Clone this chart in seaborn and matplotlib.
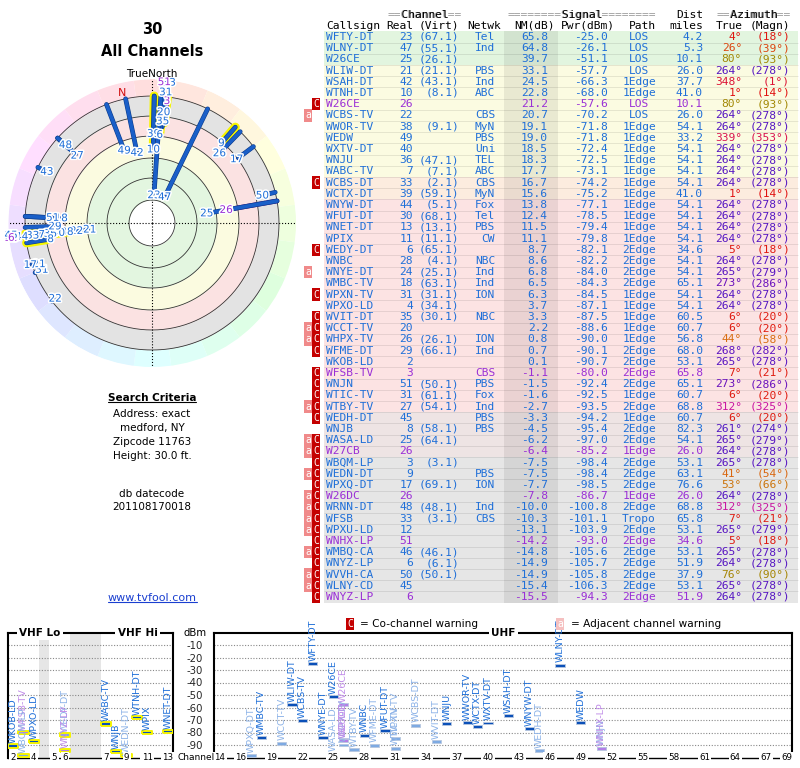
import colorsys
import numpy as np
import pandas as pd
import matplotlib
matplotlib.use("Agg")
import matplotlib.pyplot as plt
import matplotlib.patheffects as pe
from matplotlib.colors import LinearSegmentedColormap
from matplotlib.lines import Line2D
import seaborn as sns

sns.set_theme(style="white")
plt.rcParams['font.family'] = ['DejaVu Sans']
plt.rcParams['text.color'] = 'black'

# station list (tvfool signal analysis, sorted by NM)
CALLSIGN = ['WFTY-DT', 'WLNY-DT', 'W26CE', 'WLIW-DT', 'WSAH-DT', 'WTNH-DT', 'W26CE', 'WCBS-TV', 'WWOR-TV', 'WEDW',
            'WXTV-DT', 'WNJU', 'WABC-TV', 'WCBS-DT', 'WCTX-DT', 'WNYW-DT', 'WFUT-DT', 'WNET-DT', 'WPIX', 'WEDY-DT',
            'WNBC', 'WNYE-DT', 'WMBC-TV', 'WPXN-TV', 'WPXO-LD', 'WVIT-DT', 'WCCT-TV', 'WHPX-TV', 'WFME-DT', 'WKOB-LD',
            'WFSB-TV', 'WNJN', 'WTIC-TV', 'WTBY-TV', 'WEDH-DT', 'WNJB', 'WASA-LD', 'W27CB', 'WBQM-LP', 'WEDN-DT',
            'WPXQ-DT', 'W26DC', 'WRNN-DT', 'WFSB', 'WPXU-LD', 'WNHX-LP', 'WMBQ-CA', 'WNYZ-LP', 'WVVH-CA', 'WLNY-CD',
            'WNYZ-LP']
REAL = [23, 47, 25, 21, 42, 10, 26, 22, 38, 49,
        40, 36, 7, 33, 39, 44, 30, 13, 11, 6,
        28, 24, 18, 31, 4, 35, 20, 26, 29, 2,
        3, 51, 31, 27, 45, 8, 25, 26, 3, 9,
        17, 26, 48, 33, 12, 51, 46, 6, 50, 45,
        6]
VIRT = ['(67.1)', '(55.1)', '(26.1)', '(21.1)', '(43.1)', '(8.1)', '', '', '(9.1)', '',
        '', '(47.1)', '(7.1)', '(2.1)', '(59.1)', '(5.1)', '(68.1)', '(13.1)', '(11.1)', '(65.1)',
        '(4.1)', '(25.1)', '(63.1)', '(31.1)', '(34.1)', '(30.1)', '', '(26.1)', '(66.1)', '',
        '', '(50.1)', '(61.1)', '(54.1)', '', '(58.1)', '(64.1)', '', '(3.1)', '',
        '(69.1)', '', '(48.1)', '(3.1)', '', '', '(46.1)', '(6.1)', '(50.1)', '',
        '']
NETWK = ['Tel', 'Ind', '', 'PBS', 'Ind', 'ABC', '', 'CBS', 'MyN', 'PBS',
         'Uni', 'TEL', 'ABC', 'CBS', 'MyN', 'Fox', 'Tel', 'PBS', 'CW', '',
         'NBC', 'Ind', 'Ind', 'ION', '', 'NBC', '', 'ION', 'Ind', '',
         'CBS', 'PBS', 'Fox', 'Ind', 'PBS', 'PBS', '', '', '', 'PBS',
         'ION', '', 'Ind', 'CBS', '', '', '', '', '', '',
         '']
NM = [65.8, 64.8, 39.7, 33.1, 24.5, 22.8, 21.2, 20.7, 19.1, 19.0,
      18.5, 18.3, 17.7, 16.7, 15.6, 13.8, 12.4, 11.5, 11.1, 8.7,
      8.6, 6.8, 6.5, 6.3, 3.7, 3.3, 2.2, 0.8, 0.7, 0.1,
      -1.1, -1.5, -1.6, -2.7, -3.3, -4.5, -6.2, -6.4, -7.5, -7.5,
      -7.7, -7.8, -10.0, -10.3, -13.1, -14.2, -14.8, -14.9, -14.9, -15.4,
      -15.5]
PWR = [-25.0, -26.1, -51.1, -57.7, -66.3, -68.0, -57.6, -70.2, -71.8, -71.8,
       -72.4, -72.5, -73.1, -74.2, -75.2, -77.1, -78.5, -79.4, -79.8, -82.1,
       -82.2, -84.0, -84.3, -84.5, -87.1, -87.5, -88.6, -90.0, -90.1, -90.7,
       -80.0, -92.4, -92.5, -93.5, -94.2, -95.4, -97.0, -85.2, -98.4, -98.4,
       -98.5, -86.7, -100.8, -101.1, -103.9, -93.0, -105.6, -105.7, -105.8, -106.3,
       -94.3]
PATH = ['LOS', 'LOS', 'LOS', 'LOS', '1Edge', '1Edge', 'LOS', 'LOS', '1Edge', '1Edge',
        '1Edge', '1Edge', '1Edge', '1Edge', '1Edge', '1Edge', '1Edge', '1Edge', '1Edge', '2Edge',
        '2Edge', '2Edge', '2Edge', '1Edge', '1Edge', '1Edge', '1Edge', '1Edge', '2Edge', '2Edge',
        '2Edge', '2Edge', '1Edge', '2Edge', '1Edge', '2Edge', '2Edge', '1Edge', '2Edge', '2Edge',
        '2Edge', '1Edge', '2Edge', 'Tropo', '2Edge', '2Edge', '2Edge', '2Edge', '2Edge', '2Edge',
        '2Edge']
DIST = [4.2, 5.3, 10.1, 26.0, 37.7, 41.0, 10.1, 26.0, 54.1, 33.2,
        54.1, 54.1, 54.1, 54.1, 41.0, 54.1, 54.1, 54.1, 54.1, 34.6,
        54.1, 54.1, 65.1, 54.1, 54.1, 60.5, 60.7, 56.8, 68.0, 53.1,
        65.8, 65.1, 60.7, 68.8, 60.7, 82.3, 54.1, 26.0, 53.1, 63.1,
        76.6, 26.0, 68.8, 65.8, 53.1, 34.6, 53.1, 51.9, 37.9, 53.1,
        51.9]
AZ_TRUE = [4, 26, 80, 264, 348, 1, 80, 264, 264, 339,
           264, 264, 264, 264, 1, 264, 264, 264, 264, 5,
           264, 265, 273, 264, 264, 6, 6, 44, 268, 265,
           7, 273, 6, 312, 6, 261, 265, 264, 265, 41,
           53, 264, 312, 7, 265, 5, 265, 264, 76, 265,
           264]
AZ_MAGN = [18, 39, 93, 278, 1, 14, 93, 278, 278, 353,
           278, 278, 278, 278, 14, 278, 278, 278, 278, 18,
           278, 279, 286, 278, 278, 20, 20, 58, 282, 278,
           21, 286, 20, 325, 20, 274, 279, 278, 278, 54,
           66, 278, 325, 21, 279, 18, 278, 278, 90, 278,
           278]
WARN = ['', '', '', '', '', '', 'C', 'a', '', '',
        '', '', '', 'C', '', '', '', '', '', 'C',
        '', 'a', '', 'C', '', 'C', 'aC', 'aC', 'C', '',
        'C', 'C', 'C', 'aC', 'C', '', 'aC', 'aC', 'C', 'aC',
        'C', 'aC', 'aC', 'aC', 'aC', 'C', 'aC', 'C', 'aC', 'aC',
        'C']
PURPLE = [0, 0, 0, 0, 0, 0, 1, 0, 0, 0,
          0, 0, 0, 0, 0, 0, 0, 0, 0, 0,
          0, 0, 0, 0, 0, 0, 0, 0, 0, 0,
          1, 0, 0, 0, 0, 0, 0, 1, 0, 0,
          0, 1, 0, 0, 0, 1, 0, 0, 0, 0,
          1]

# weak stations only visible on the compass plot
EXTRA_CH = [43, 22, 21, 17, 31]
EXTRA_AZ = [296, 232, 250, 251, 247]
EXTRA_NM = [-18.0, -23.5, -21.0, -21.5, -20.5]

SEARCH_LINES = ['Address: exact', 'medford, NY', 'Zipcode 11763', 'Height: 30.0 ft.']
DATECODE = '201108170018'

UHF_TICKS = [14, 16, 19, 22, 25, 28, 31, 34, 37, 40, 43, 46, 49, 52, 55, 58, 61, 64, 67, 69]
VHF_TICKS = [2, 4, 5, 6, 7, 9, 11, 13]
DBM_TICKS = [-10, -20, -30, -40, -50, -60, -70, -80, -90]

BLUE = '#1f6fd8'
VIOLET = '#9a2fd6'
BAND_EDGES = [72.4, 32.9, 12.2, -6.6, -25.4]
BAND_COLORS = ['#e3f6e0', '#fbfbe0', '#fbe2e2', '#e3e3e3']
RING_LEVELS = [72.4, 51.7, 32.9, 12.2, -6.6, -25.4]
NM_CENTER, NM_EDGE = 94.0, -41.4
ROW_LIMITS = [35, 17, 15, -3, -7]
ROW_COLORS = ['#e2f5df', '#fbfbe1', '#fcecdf', '#fce3e3', '#eee4e4', '#e6e6e6']
az_cmap = LinearSegmentedColormap.from_list('az', ['#e01010', '#d87010', '#909000', '#10a040', '#10a0a0',
                                                   '#1040d0', '#6010c0', '#d018a0', '#e01010'])


def row_color(nm):
    for lim, col in zip(ROW_LIMITS, ROW_COLORS):
        if nm >= lim:
            return col
    return ROW_COLORS[-1]


def vhf_slot(ch):
    # VHF axis: ch2-4, gap, ch5-6, FM gap, ch7-13
    if ch <= 4:
        return ch - 1.5
    if ch <= 6:
        return ch - 0.5
    return ch + 2.5


fig = plt.figure(figsize=(8, 7.68), dpi=100)


def fx(x):
    return x / 800


def fy(y):
    return 1 - y / 768


# ---- titles / left text ----
fig.text(fx(152), fy(29), '30', ha='center', va='center', fontsize=10.5, fontweight='bold')
fig.text(fx(152), fy(51), 'All Channels', ha='center', va='center', fontsize=10.5, fontweight='bold')
fig.text(fx(152), fy(74), 'TrueNorth', ha='center', va='center', fontsize=7.5)

t_sc = fig.text(fx(152), fy(398), 'Search Criteria', ha='center', va='center', fontsize=7.5, fontweight='bold')
for i, line in enumerate(SEARCH_LINES):
    fig.text(fx(152), fy(414 + 14 * i), line, ha='center', va='center', fontsize=7.5)
fig.text(fx(152), fy(494), 'db datecode', ha='center', va='center', fontsize=7.5)
fig.text(fx(152), fy(507), DATECODE, ha='center', va='center', fontsize=7.5)
t_url = fig.text(fx(152), fy(598), 'www.tvfool.com', ha='center', va='center', fontsize=8, color='#1a3fd0')

# ---- compass plot ----
pol = fig.add_axes([fx(8), fy(367), 288 / 800, 288 / 768], projection='polar')
pol.set_theta_zero_location('N')
pol.set_theta_direction(-1)
th = np.linspace(0, 2 * np.pi, 361)
for hi, lo, col in zip(BAND_EDGES[:-1], BAND_EDGES[1:], BAND_COLORS):
    pol.fill_between(th, hi, lo, color=col, lw=0, zorder=0)
for k in range(24):
    a = np.linspace(k * 15 - 7.5, k * 15 + 7.5, 8)
    pol.fill_between(np.radians(a), NM_EDGE, BAND_EDGES[-1], lw=0, zorder=0,
                     color=colorsys.hsv_to_rgb((k * 15 % 360) / 360, 0.13, 1.0))
for lev in RING_LEVELS:
    pol.plot(th, np.full_like(th, lev), color='#333333', lw=0.6, zorder=1)
for a in [0, 90, 180, 270]:
    pol.plot([np.radians(a)] * 2, [NM_CENTER, NM_EDGE], color='black', ls=':', lw=0.8, zorder=2)

pol_ch = REAL + EXTRA_CH
pol_az = AZ_TRUE + EXTRA_AZ
pol_nm = NM + EXTRA_NM
pol_pu = PURPLE + [0] * len(EXTRA_CH)
order = np.argsort(pol_nm)
for i in order:
    t = np.radians(pol_az[i])
    col = VIOLET if pol_pu[i] else '#1a5fc8'
    if pol_ch[i] <= 13:
        pol.plot([t, t], [pol_nm[i], BAND_EDGES[-1]], color='#f6f600', lw=6.5, solid_capstyle='round', zorder=3)
    pol.plot([t, t], [pol_nm[i], BAND_EDGES[-1]], color=col, lw=2.6, zorder=4,
             path_effects=[pe.Stroke(linewidth=3.4, foreground='#0b3a8a' if not pol_pu[i] else '#5a1090'), pe.Normal()])

# channel labels at the inner end of each line, pushed outward when they collide
placed = []
for i in order[::-1]:
    lab = pol_nm[i] + 2
    moved = True
    while moved and lab > -39:
        moved = False
        for paz, pnm in placed:
            d = abs(pol_az[i] - paz) % 360
            if min(d, 360 - d) < 3 and abs(lab - pnm) < 7.5:
                lab -= 7.5
                moved = True
                break
    lab = max(lab, -39)
    placed.append((pol_az[i], lab))
    pol.text(np.radians(pol_az[i]), lab, str(pol_ch[i]), ha='center', va='center', fontsize=7.5,
             color=VIOLET if pol_pu[i] else BLUE, zorder=6,
             path_effects=[pe.withStroke(linewidth=2.2, foreground='white')])
pol.text(np.radians(347), -31, 'N', ha='center', va='center', fontsize=8, color='#d01010', zorder=6)
pol.set_ylim(NM_CENTER, NM_EDGE)
pol.set_xticks([])
pol.set_yticks([])
pol.grid(False)
pol.spines['polar'].set_visible(False)
pol.set_facecolor('none')

# ---- table ----
tab = fig.add_axes([fx(300), fy(602.6), 500 / 800, 602.6 / 768])
tab.set_xlim(300, 800)
tab.set_ylim(50.5, -3.3)
tab.axis('off')
rows = np.arange(len(CALLSIGN))
tab.barh(rows, 474, left=324, height=1, color=[row_color(v) for v in NM], lw=0)
tab.fill_between([504, 558], -0.5, len(rows) - 0.5, color='black', alpha=0.07, lw=0)
tab.hlines(rows + 0.5, 324, 798, color='black', alpha=0.1, lw=0.6)

mono = dict(family='DejaVu Sans Mono', fontsize=8.1, va='center')
# header lines
for txt, x, ha in [('==Channel==', 388, 'left'), ('========Signal========', 508, 'left'),
                   ('==Azimuth==', 717, 'left')]:
    tab.text(x, -2, txt, ha=ha, color='#999999', **mono)
    tab.text(x, -2, txt.replace('=', ' '), ha=ha, color='black', **mono)
tab.text(703, -2, 'Dist', ha='right', color='black', **mono)
for txt, x, ha in [('Callsign', 326, 'left'), ('Real', 413, 'right'), ('(Virt)', 459, 'right'),
                   ('Netwk', 501, 'right'), ('NM(dB)', 555, 'right'), ('Pwr(dBm)', 615, 'right'),
                   ('Path', 642, 'center'), ('miles', 703, 'right'), ('True', 743, 'right'),
                   ('(Magn)', 790, 'right')]:
    tab.text(x, -1, txt, ha=ha, color='black', **mono)

for r in rows:
    col = VIOLET if PURPLE[r] else BLUE
    azc = az_cmap(AZ_TRUE[r] / 360)
    tab.text(326, r, CALLSIGN[r], ha='left', color=col, **mono)
    tab.text(413, r, str(REAL[r]), ha='right', color=col, **mono)
    tab.text(459, r, VIRT[r], ha='right', color=col, **mono)
    tab.text(495, r, NETWK[r], ha='right', color=col, **mono)
    tab.text(548, r, f'{NM[r]:.1f}', ha='right', color=col, **mono)
    tab.text(608, r, f'{PWR[r]:.1f}', ha='right', color=col, **mono)
    tab.text(639, r, PATH[r], ha='center', color=col, **mono)
    tab.text(703, r, f'{DIST[r]:.1f}', ha='right', color=col, **mono)
    tab.text(742, r, f'{AZ_TRUE[r]}\u00b0', ha='right', color=azc, **mono)
    tab.text(790, r, f'({AZ_MAGN[r]}\u00b0)', ha='right', color=azc, **mono)
    if 'C' in WARN[r]:
        tab.text(316, r, 'C', ha='center', va='center', fontsize=7, color='white', family='DejaVu Sans Mono',
                 bbox=dict(boxstyle='square,pad=0.12', fc='#c40000', ec='none'))
    if 'a' in WARN[r]:
        tab.text(308, r, 'a', ha='center', va='center', fontsize=7, color='white', family='DejaVu Sans Mono',
                 bbox=dict(boxstyle='square,pad=0.12', fc='#f08a8a', ec='none'))

# ---- signal bar charts ----
df = pd.DataFrame({'call': CALLSIGN, 'ch': REAL, 'pwr': PWR, 'warn': WARN, 'purple': PURPLE})
df['tone'] = np.where(df.purple == 1, 'purple', np.where(df.warn.str.contains('C'), 'light', 'dark'))
df = df[df.pwr > -100]
vhf = df[df.ch <= 13].copy()
vhf['x'] = vhf.ch.map(vhf_slot)
uhf = df[df.ch >= 14].copy()
uhf['x'] = uhf.ch

BAR_PALETTE = {'dark': '#0b50b8', 'light': '#7eaae2', 'purple': '#b27ee6'}
LABEL_COLORS = {'dark': BLUE, 'light': '#8db3e8', 'purple': '#c08ce8'}
RECT = [(-1, -0.32), (1, -0.32), (1, 0.32), (-1, 0.32), (-1, -0.32)]

axv = fig.add_axes([fx(8), fy(757.5), 165 / 800, 125 / 768])
axu = fig.add_axes([fx(214), fy(757.5), 578 / 800, 125 / 768])

axv.axvspan(3, 4, color='#e6e6e6', lw=0, zorder=0)
axv.axvspan(6, 9, color='#e6e6e6', lw=0, zorder=0)

sns.scatterplot(data=vhf, x='x', y='pwr', hue='tone', palette=BAR_PALETTE, marker=RECT, s=55,
                edgecolor='#f4f400', linewidth=1.4, legend=False, ax=axv, zorder=4)
sns.scatterplot(data=uhf, x='x', y='pwr', hue='tone', palette=BAR_PALETTE, marker=RECT, s=45,
                edgecolor='#b8c8e0', linewidth=0.6, legend=False, ax=axu, zorder=4)

for ax, sub, xl in [(axv, vhf, (0, 16)), (axu, uhf, (13.42, 69.5))]:
    ax.set_xlim(*xl)
    ax.set_ylim(-100, 0)
    ax.hlines(DBM_TICKS, xl[0], xl[1], colors='#888888', linestyles=(0, (1, 1.5)), lw=0.8, zorder=1)
    for _, s in sub.iterrows():
        ax.text(s.x, s.pwr + 2.2, s.call, rotation=90, ha='center', va='bottom', fontsize=6.8,
                color=LABEL_COLORS[s.tone], clip_on=False, zorder=5)
    ax.set_xlabel('')
    ax.set_ylabel('')
    ax.set_xticks([])
    for name, sp in ax.spines.items():
        sp.set_visible(True)
        sp.set_color('black')
        sp.set_linewidth(1.0 if name == 'bottom' else 1.5)

for ch in VHF_TICKS:
    axv.text(vhf_slot(ch), -100, str(ch), ha='center', va='center', fontsize=6.3, clip_on=False, zorder=6,
             bbox=dict(boxstyle='square,pad=0.15', fc='white', ec='none'))
for ch in UHF_TICKS:
    axu.text(ch, -100, str(ch), ha='center', va='center', fontsize=6.3, clip_on=False, zorder=6,
             bbox=dict(boxstyle='square,pad=0.15', fc='white', ec='none'))

axv.yaxis.tick_right()
axv.set_yticks(DBM_TICKS)
axv.set_yticklabels([str(v) for v in DBM_TICKS], fontsize=7.3, ha='left')
axv.tick_params(axis='y', length=0, pad=10)
axu.set_yticks([])

title_box = dict(boxstyle='square,pad=0.25', fc='white', ec='none')
axv.text(3.1, 0, 'VHF Lo', ha='center', va='center', fontsize=7.5, fontweight='bold', bbox=title_box,
         clip_on=False, zorder=6)
axv.text(12.6, 0, 'VHF Hi', ha='center', va='center', fontsize=7.5, fontweight='bold', bbox=title_box,
         clip_on=False, zorder=6)
axu.text(41.5, 0, 'UHF', ha='center', va='center', fontsize=7.5, fontweight='bold', bbox=title_box,
         clip_on=False, zorder=6)

fig.text(fx(183), fy(633), 'dBm', ha='left', va='center', fontsize=7.3)
fig.text(fx(177), fy(758), 'Channel', ha='left', va='center', fontsize=6.5)

# legend for warning markers
fig.text(fx(350), fy(624), 'C', ha='center', va='center', fontsize=7, color='white', family='DejaVu Sans Mono',
         bbox=dict(boxstyle='square,pad=0.12', fc='#c40000', ec='none'))
fig.text(fx(360), fy(624), '= Co-channel warning', ha='left', va='center', fontsize=7.6)
fig.text(fx(560), fy(624), 'a', ha='center', va='center', fontsize=7, color='white', family='DejaVu Sans Mono',
         bbox=dict(boxstyle='square,pad=0.12', fc='#f5c0c0', ec='none'))
fig.text(fx(571), fy(624), '= Adjacent channel warning', ha='left', va='center', fontsize=7.6)

# underlines
fig.canvas.draw()
for t, col in [(t_sc, 'black'), (t_url, '#1a3fd0')]:
    bb = t.get_window_extent()
    yy = (bb.y0 + 1.5) / fig.bbox.height
    fig.add_artist(Line2D([bb.x0 / fig.bbox.width, bb.x1 / fig.bbox.width], [yy, yy], color=col, lw=0.8))

fig.savefig('out.png', dpi=100)
